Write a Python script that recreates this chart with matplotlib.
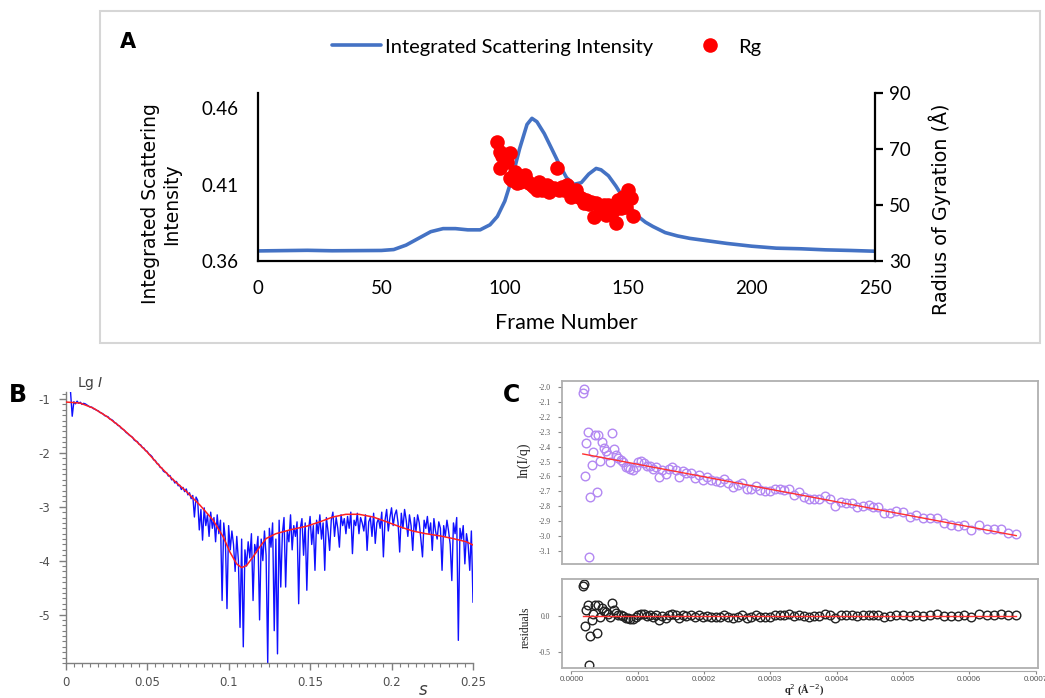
import numpy as np
import matplotlib
matplotlib.use("Agg")
import matplotlib.pyplot as plt
from matplotlib.ticker import MultipleLocator
from matplotlib.patches import Rectangle

plt.rcParams['axes.unicode_minus'] = False
plt.rcParams['font.family'] = ['DejaVu Sans']

# ---------------- Panel A data ----------------
frames = [0, 10, 20, 30, 40, 50, 55, 60, 65, 70, 75, 80, 85, 90, 94, 97, 100, 103, 106,
          109, 111, 113, 116, 119, 122, 125, 128, 131, 134, 137, 139, 142, 145, 148, 151,
          154, 157, 160, 165, 170, 175, 180, 190, 200, 210, 220, 230, 240, 250]
intensity = [0.3666, 0.3668, 0.3670, 0.3667, 0.3668, 0.3669, 0.3675, 0.3704, 0.3748,
             0.3792, 0.3812, 0.3812, 0.3804, 0.3804, 0.3837, 0.3892, 0.3992, 0.4146,
             0.4335, 0.4494, 0.4534, 0.4512, 0.4434, 0.4335, 0.4235, 0.4146, 0.4102,
             0.4113, 0.4169, 0.4206, 0.4197, 0.4158, 0.4091, 0.4014, 0.3947, 0.3892,
             0.3854, 0.3826, 0.3786, 0.3764, 0.3748, 0.3737, 0.3715, 0.3697, 0.3684,
             0.3680, 0.3673, 0.3669, 0.3664]
rg_frames = [97, 98, 98, 99, 100, 101, 102, 102, 103, 104, 105, 106, 107, 108, 109, 110,
             111, 112, 113, 114, 115, 116, 117, 118, 118, 119, 120, 121, 122, 123, 124,
             125, 126, 127, 128, 129, 130, 131, 132, 133, 134, 135, 136, 137, 138, 139,
             140, 141, 142, 143, 144, 145, 146, 147, 148, 149, 150, 151, 152]
rg_values = [72.6, 69.0, 63.1, 67.5, 66.5, 65.5, 68.5, 59.5, 58.9, 61.9, 57.7, 58.3, 59.0,
             60.7, 58.5, 57.7, 57.0, 56.5, 55.4, 58.3, 55.4, 56.0, 57.0, 54.8, 56.5, 55.8,
             56.2, 63.1, 55.4, 56.5, 55.4, 57.1, 55.4, 53.0, 54.5, 55.4, 53.0, 52.5, 50.6,
             51.8, 50.5, 51.2, 45.8, 50.6, 49.5, 48.5, 50.0, 46.4, 50.0, 49.4, 48.0, 43.5,
             51.8, 48.8, 53.0, 49.4, 55.4, 52.4, 46.1]
a_xticks = [0, 50, 100, 150, 200, 250]
a_yticks = [0.36, 0.41, 0.46]
a_rticks = [30, 50, 70, 90]

# ---------------- Panel B data ----------------
s_first, s_last = 0.003, 0.250
lg_I = [-0.88, -1.32, -1.05, -1.09, -1.04, -1.08, -1.06, -1.10, -1.08, -1.09,
        -1.11, -1.13, -1.15, -1.15, -1.18, -1.19, -1.21, -1.22, -1.25, -1.26,
        -1.28, -1.31, -1.32, -1.33, -1.37, -1.38, -1.40, -1.44, -1.45, -1.49,
        -1.50, -1.54, -1.56, -1.58, -1.62, -1.64, -1.67, -1.69, -1.71, -1.76,
        -1.78, -1.79, -1.84, -1.85, -1.90, -1.91, -1.96, -1.97, -2.02, -2.04,
        -2.07, -2.13, -2.14, -2.20, -2.21, -2.27, -2.28, -2.34, -2.36, -2.37,
        -2.43, -2.42, -2.50, -2.49, -2.56, -2.53, -2.61, -2.60, -2.68, -2.64,
        -2.72, -2.67, -2.78, -2.74, -2.85, -2.79, -3.19, -2.82, -2.88, -3.43,
        -3.05, -3.62, -3.02, -3.35, -3.15, -3.55, -3.10, -3.40, -3.20, -3.65,
        -3.15, -3.50, -3.25, -4.74, -3.30, -3.60, -4.89, -3.35, -3.80, -3.45,
        -3.70, -4.20, -3.55, -4.00, -5.24, -3.60, -5.60, -3.80, -4.10, -3.65,
        -3.95, -3.50, -4.74, -3.70, -3.85, -3.55, -5.10, -3.60, -4.00, -3.45,
        -3.90, -5.90, -3.40, -3.75, -3.30, -5.30, -3.60, -5.73, -3.25, -4.49,
        -3.50, -3.20, -4.49, -3.45, -3.65, -3.15, -3.80, -3.35, -3.55, -3.28,
        -4.80, -3.40, -3.22, -3.90, -3.30, -4.55, -3.45, -3.18, -3.70, -3.35,
        -4.18, -3.25, -3.50, -3.15, -3.60, -3.30, -4.18, -3.20, -3.45, -3.81,
        -3.25, -3.10, -3.55, -3.20, -3.40, -3.75, -3.15, -3.35, -3.22, -3.50,
        -3.18, -3.40, -3.10, -3.87, -3.25, -3.35, -3.12, -3.50, -3.20, -3.30,
        -3.45, -3.15, -3.81, -3.28, -3.20, -3.55, -3.12, -3.68, -3.30, -3.22,
        -3.40, -3.10, -3.93, -3.25, -3.05, -3.45, -3.20, -3.02, -3.35, -3.15,
        -3.06, -3.30, -3.84, -3.12, -3.40, -3.05, -3.25, -3.55, -3.15, -3.35,
        -3.81, -3.20, -3.45, -3.15, -3.30, -3.60, -3.93, -3.25, -3.40, -3.18,
        -3.50, -3.30, -3.81, -3.22, -3.45, -3.60, -3.28, -3.40, -4.18, -3.35,
        -3.55, -3.25, -3.45, -3.70, -4.37, -3.30, -3.50, -3.20, -5.48, -3.40,
        -3.60, -3.35, -4.06, -3.50, -3.70, -4.18, -3.45, -4.77]
fit_s = [0.0, 0.0088, 0.017, 0.025, 0.0333, 0.0415, 0.0497, 0.0578, 0.066, 0.0742,
         0.0824, 0.0905, 0.0967, 0.1008, 0.1049, 0.108, 0.111, 0.115, 0.119, 0.123,
         0.129, 0.1376, 0.148, 0.156, 0.164, 0.172, 0.180, 0.1887, 0.197, 0.205,
         0.213, 0.221, 0.2296, 0.2377, 0.2459, 0.25]
fit_lgI = [-1.056, -1.075, -1.17, -1.32, -1.51, -1.73, -1.975, -2.25, -2.50, -2.72,
           -2.97, -3.25, -3.56, -3.84, -4.06, -4.13, -4.09, -3.93, -3.75, -3.59,
           -3.50, -3.43, -3.36, -3.28, -3.19, -3.14, -3.14, -3.19, -3.28, -3.37,
           -3.45, -3.50, -3.54, -3.59, -3.65, -3.71]
b_xticks = [0, 0.05, 0.1, 0.15, 0.2, 0.25]
b_xlabels = ['0', '0.05', '0.1', '0.15', '0.2', '0.25']
b_yticks = [-1, -2, -3, -4, -5]

# ---------------- Panel C data ----------------
q2 = [1.73e-5, 1.94e-5, 2.10e-5, 2.25e-5, 2.46e-5, 2.67e-5, 2.83e-5, 3.09e-5, 3.30e-5, 3.51e-5,
      3.83e-5, 4.03e-5, 4.30e-5, 4.56e-5, 4.87e-5, 5.19e-5, 5.50e-5, 5.82e-5, 6.13e-5, 6.45e-5,
      6.76e-5, 7.07e-5, 7.44e-5, 7.81e-5, 8.17e-5, 8.54e-5, 8.91e-5, 9.28e-5, 9.69e-5, 10.11e-5,
      10.53e-5, 10.95e-5, 11.37e-5, 11.90e-5, 12.31e-5, 12.73e-5, 13.15e-5, 13.68e-5, 14.20e-5, 14.72e-5,
      15.25e-5, 15.77e-5, 16.30e-5, 16.82e-5, 17.34e-5, 17.97e-5, 18.60e-5, 19.23e-5, 19.86e-5, 20.49e-5,
      21.12e-5, 21.75e-5, 22.37e-5, 23.06e-5, 23.69e-5, 24.37e-5, 25.05e-5, 25.73e-5, 26.41e-5, 27.09e-5,
      27.77e-5, 28.45e-5, 29.19e-5, 29.92e-5, 30.65e-5, 31.39e-5, 32.12e-5, 32.86e-5, 33.59e-5, 34.32e-5,
      35.06e-5, 35.79e-5, 36.52e-5, 37.36e-5, 38.20e-5, 39.04e-5, 39.77e-5, 40.61e-5, 41.45e-5, 42.29e-5,
      43.12e-5, 43.96e-5, 44.80e-5, 45.53e-5, 46.27e-5, 47.11e-5, 48.05e-5, 48.99e-5, 50.04e-5, 51.09e-5,
      52.03e-5, 52.98e-5, 54.02e-5, 55.07e-5, 56.12e-5, 57.17e-5, 58.22e-5, 59.26e-5, 60.31e-5, 61.47e-5,
      62.62e-5, 63.67e-5, 64.82e-5, 65.87e-5, 67.07e-5]
ln_Iq = [-2.040, -2.011, -2.600, -2.373, -2.300, -3.140, -2.736, -2.523, -2.433, -2.319,
         -2.705, -2.323, -2.494, -2.366, -2.410, -2.426, -2.456, -2.503, -2.310, -2.415,
         -2.456, -2.478, -2.489, -2.503, -2.534, -2.539, -2.548, -2.557, -2.539, -2.503,
         -2.494, -2.507, -2.530, -2.530, -2.552, -2.534, -2.602, -2.557, -2.584, -2.552,
         -2.539, -2.557, -2.602, -2.561, -2.579, -2.575, -2.613, -2.590, -2.624, -2.606,
         -2.624, -2.628, -2.635, -2.617, -2.646, -2.673, -2.658, -2.642, -2.682, -2.682,
         -2.664, -2.691, -2.696, -2.700, -2.685, -2.685, -2.691, -2.682, -2.723, -2.707,
         -2.736, -2.750, -2.750, -2.750, -2.732, -2.754, -2.799, -2.772, -2.777, -2.781,
         -2.804, -2.799, -2.795, -2.808, -2.808, -2.844, -2.848, -2.835, -2.840, -2.871,
         -2.862, -2.880, -2.880, -2.880, -2.911, -2.925, -2.934, -2.929, -2.961, -2.929,
         -2.956, -2.956, -2.952, -2.983, -2.988]
fit_q2 = [1.73e-5, 67.07e-5]
fit_ln = [-2.449, -2.999]
c_yticks = [-2.0, -2.1, -2.2, -2.3, -2.4, -2.5, -2.6, -2.7, -2.8, -2.9, -3.0, -3.1]
c_xticks = [0.0, 0.0001, 0.0002, 0.0003, 0.0004, 0.0005, 0.0006, 0.0007]
c_rticks = [0.0, -0.5]

# ---------------- Figure ----------------
W, H = 1045, 698
fig = plt.figure(figsize=(W / 100, H / 100), dpi=100)

def fx(px):
    return px / W

def fy(py):
    return 1 - py / H

def box(l, t, r, b):
    return [fx(l), fy(b), fx(r) - fx(l), fy(t) - fy(b)]

SANS_A = ['Lato', 'DejaVu Sans']

# Panel A outer frame
fig.add_artist(Rectangle((fx(100), fy(343)), fx(1040) - fx(100), fy(11) - fy(343),
                         transform=fig.transFigure, fill=False, ec='#d6d6d6', lw=1.5))

axA = fig.add_axes(box(258, 93, 875, 261))
lineA, = axA.plot(frames, intensity, color='#4472c4', lw=2.6, solid_capstyle='round',
                  label='Integrated Scattering Intensity')
axA.set_xlim(0, 250)
axA.set_ylim(0.36, 0.47)
axA.set_xticks(a_xticks)
axA.set_xticklabels([str(v) for v in a_xticks])
axA.set_yticks(a_yticks)
axA.set_yticklabels(['%.2f' % v for v in a_yticks])
for sp in ['top', 'right']:
    axA.spines[sp].set_visible(False)
for sp in ['left', 'bottom']:
    axA.spines[sp].set_linewidth(1.6)
axA.tick_params(axis='both', length=0, labelsize=13.5)
axA.tick_params(axis='x', pad=14)
axA.tick_params(axis='y', pad=14)
for lab in axA.get_xticklabels() + axA.get_yticklabels():
    lab.set_family(SANS_A)

axA2 = axA.twinx()
rgA, = axA2.plot(rg_frames, rg_values, 'o', color='#ff0000', ms=10.5, mec='none',
                 label='Rg', zorder=5)
axA2.set_ylim(30, 90)
axA2.set_yticks(a_rticks)
axA2.set_yticklabels([str(v) for v in a_rticks])
for sp in ['top', 'left', 'bottom']:
    axA2.spines[sp].set_visible(False)
axA2.spines['right'].set_linewidth(1.6)
axA2.tick_params(axis='y', length=6, width=1.6, direction='out', labelsize=13.5, pad=4)
for lab in axA2.get_yticklabels():
    lab.set_family(SANS_A)

fig.text(fx(161), fy(204), 'Integrated Scattering\nIntensity', rotation=90,
         ha='center', va='center', multialignment='center', fontsize=13.5,
         family='DejaVu Sans', linespacing=1.15)
fig.text(fx(940), fy(209), 'Radius of Gyration (Å)', rotation=90, ha='center',
         va='center', fontsize=13.8, family='DejaVu Sans')
fig.text(fx(566), fy(323), 'Frame Number', ha='center', va='center', fontsize=15.5,
         family=SANS_A)
fig.text(fx(128), fy(42), 'A', ha='center', va='center', fontsize=15,
         fontweight='bold', family='DejaVu Sans')
fig.legend(handles=[lineA, rgA], loc='center', bbox_to_anchor=(fx(547), fy(47)),
           ncol=2, frameon=False, handlelength=2.4, handletextpad=0.2,
           columnspacing=1.65, prop={'family': SANS_A, 'size': 14.5})

# ---------------- Panel B ----------------
GRAY = '#7f7f7f'
axB = fig.add_axes(box(65.7, 392, 473, 663))
s_vals = np.linspace(s_first, s_last, len(lg_I))
axB.plot(s_vals, lg_I, color='#1010ff', lw=1.0)
axB.plot(fit_s, fit_lgI, color='#ff2020', lw=1.1, zorder=3)
axB.set_xlim(0, 0.25)
axB.set_ylim(-5.9, -0.87)
axB.set_xticks(b_xticks)
axB.set_xticklabels(b_xlabels)
axB.set_yticks(b_yticks)
axB.set_yticklabels([str(v) for v in b_yticks])
axB.xaxis.set_minor_locator(MultipleLocator(0.005))
axB.yaxis.set_minor_locator(MultipleLocator(0.1))
for sp in ['top', 'right']:
    axB.spines[sp].set_visible(False)
for sp in ['left', 'bottom']:
    axB.spines[sp].set_color(GRAY)
    axB.spines[sp].set_linewidth(1.0)
axB.tick_params(which='major', length=5, width=1.0, color=GRAY, labelsize=8.5,
                labelcolor='#505050', direction='out')
axB.tick_params(which='minor', length=3, width=0.8, color=GRAY)
axB.tick_params(axis='y', pad=6)
axB.tick_params(axis='x', pad=4)
fig.text(fx(77), fy(384), 'Lg $I$', ha='left', va='center', fontsize=10, color='#404040')
fig.text(fx(423), fy(690), '$s$', ha='center', va='center', fontsize=12, color='#404040')
fig.text(fx(18), fy(395), 'B', ha='center', va='center', fontsize=17,
         fontweight='bold')

# ---------------- Panel C ----------------
SERIF = ['Liberation Serif', 'DejaVu Serif']
CSANS = ['Liberation Sans', 'DejaVu Sans']
CG = '#b0b0b0'
axC = fig.add_axes(box(561.5, 381, 1037.7, 564))
axC.plot(fit_q2, fit_ln, color='#ff3030', lw=1.0, zorder=3)
axC.plot(q2, ln_Iq, 'o', mfc='none', mec='#b388f2', mew=1.0, ms=6.2, zorder=2)
axC.set_xlim(-1.48e-5, 7.03e-4)
axC.set_ylim(-3.19, -1.958)
axC.set_yticks(c_yticks)
axC.set_yticklabels(['%.1f' % v for v in c_yticks])
axC.tick_params(axis='x', bottom=False, labelbottom=False)
axC.tick_params(axis='y', length=3, width=0.8, color='#888888', labelsize=5.5,
                labelcolor='#555555', pad=5)
for sp in axC.spines.values():
    sp.set_color(CG)
    sp.set_linewidth(1.3)
for lab in axC.get_yticklabels():
    lab.set_family(SERIF)

residuals = np.array(ln_Iq) - np.interp(q2, fit_q2, fit_ln)
axR = fig.add_axes(box(561.5, 579.3, 1037.7, 667.7))
axR.plot(fit_q2, [0, 0], color='#ff3030', lw=1.0, zorder=3)
axR.plot(q2, residuals, 'o', mfc='none', mec='#222222', mew=1.0, ms=6.2, zorder=2)
axR.set_xlim(-1.48e-5, 7.03e-4)
axR.set_ylim(-0.72, 0.506)
axR.set_yticks(c_rticks)
axR.set_yticklabels(['%.1f' % v for v in c_rticks])
axR.tick_params(axis='x', bottom=False, labelbottom=False)
axR.tick_params(axis='y', length=3, width=0.8, color='#888888', labelsize=5.5,
                labelcolor='#555555', pad=5)
for sp in axR.spines.values():
    sp.set_color(CG)
    sp.set_linewidth(1.3)
for lab in axR.get_yticklabels():
    lab.set_family(SERIF)

# detached x axis below the residual panel
secX = axR.secondary_xaxis(-0.04)
secX.set_xticks(c_xticks)
secX.set_xticklabels(['%.4f' % v for v in c_xticks])
secX.spines['bottom'].set_color('#aaaaaa')
secX.spines['bottom'].set_linewidth(0.8)
secX.spines['bottom'].set_bounds(c_xticks[0], c_xticks[-1])
secX.tick_params(axis='x', length=2.5, width=0.8, color='#888888', labelsize=5.8,
                 labelcolor='#555555', pad=1)
for lab in secX.get_xticklabels():
    lab.set_family(CSANS)

fig.text(fx(524), fy(460), 'ln(I/q)', rotation=90, ha='center', va='center',
         fontsize=10, family=SERIF, color='#222222')
fig.text(fx(526), fy(627), 'residuals', rotation=90, ha='center', va='center',
         fontsize=8.5, family=SERIF, color='#222222')
fig.text(fx(804), fy(697.5), 'q$^{2}$ (Å$^{-2}$)', ha='center', va='bottom',
         fontsize=7.5, family=SERIF, fontweight='bold', color='#222222')
fig.text(fx(511), fy(395), 'C', ha='center', va='center', fontsize=17,
         fontweight='bold')

fig.savefig('out.png', dpi=100)
